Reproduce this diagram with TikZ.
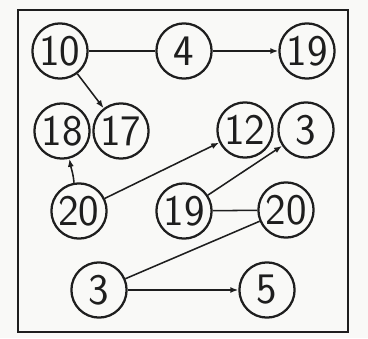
\documentclass[tikz,border=0pt]{standalone}
\usepackage{xcolor}
\usepackage{tikz}
\definecolor{graphInk}{HTML}{1E1E1E}
\definecolor{graphPaper}{HTML}{F9F9F7}
\usetikzlibrary{arrows.meta}

\begin{document}
\begin{tikzpicture}[x=1cm,y=1cm,
  every node/.style={font=\sffamily\fontsize{31}{31}\selectfont},
  num/.style={circle, draw=graphInk, line width=1.6pt, minimum size=1.38cm, inner sep=0pt, text=graphInk},
  link/.style={color=graphInk, line width=1.1pt}]
  \fill[graphPaper] (0,0) rectangle (9.2,8.45);
  \useasboundingbox (0,0) rectangle (9.2,8.45);
  \draw[graphInk, line width=1.7pt] (0.45,0.15) rectangle (8.7,8.2);
  % first row
  \node[num] (n10) at (1.5,7.175) {10};
  \node[num] (n4) at (4.6,7.175) {4};
  \node[num] (n19a) at (7.675,7.175) {19};
  % second row
  \node[num] (n18) at (1.55,5.175) {18};
  \node[num] (n17) at (3.025,5.175) {17};
  \node[num] (n12) at (6.125,5.2) {12};
  \node[num] (n3a) at (7.65,5.2) {3};
  % third row
  \node[num] (n20a) at (1.975,3.175) {20};
  \node[num] (n19b) at (4.6,3.175) {19};
  \node[num] (n20b) at (7.15,3.2) {20};
  % last row
  \node[num] (n3b) at (2.475,1.2) {3};
  \node[num] (n5) at (6.675,1.2) {5};
  % connectors
  \draw[link] (n10) -- (n4);
  \draw[link, -{Latex[length=2mm]}] (n4) -- (n19a);
  \draw[link, -{Latex[length=2mm]}] (n10) -- (n17);
  \draw[link, -{Latex[length=2mm]}] (n20a.100) to[out=95, in=-80] (n18.-75);
  \draw[link, -{Latex[length=2mm]}] (n20a) -- (n12);
  \draw[link, -{Latex[length=2mm]}] (n19b) -- (n3a);
  \draw[link] (n19b) -- (n20b);
  \draw[link] (n3b) -- (n20b);
  \draw[link, -{Latex[length=2mm]}] (n3b) -- (n5);
\end{tikzpicture}
\end{document}
